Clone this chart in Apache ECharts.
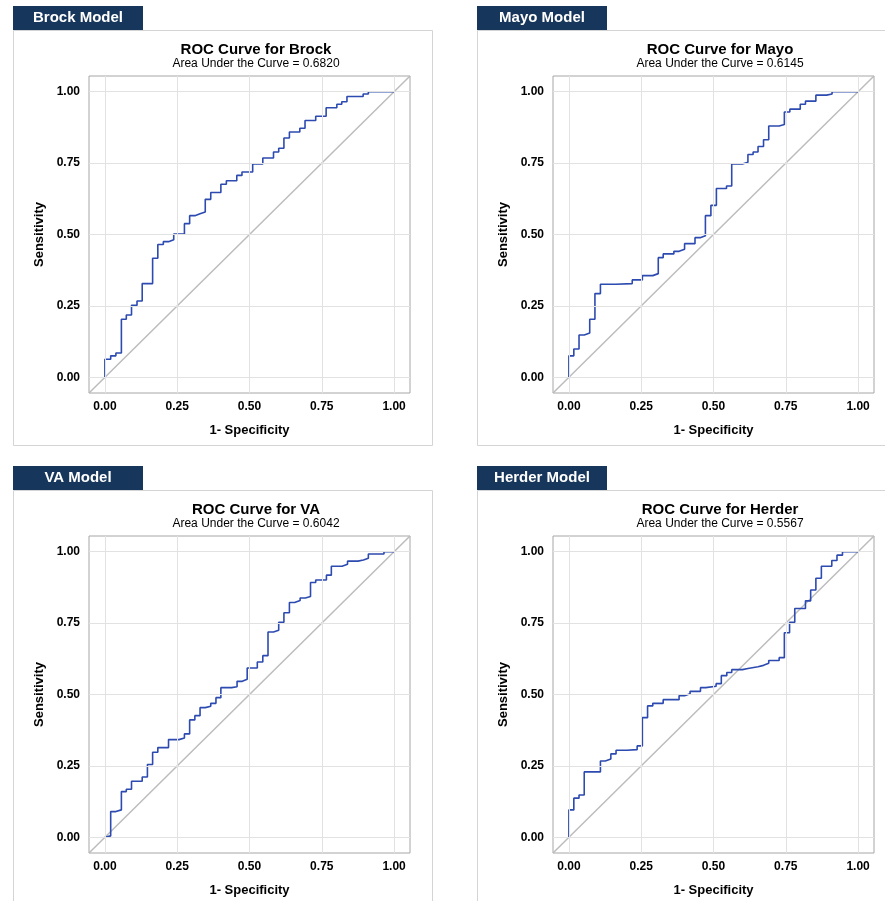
<!DOCTYPE html>
<html>
<head>
<meta charset="utf-8">
<script src="https://cdn.jsdelivr.net/npm/echarts@6/dist/echarts.min.js"></script>
<style>
html,body{margin:0;padding:0;background:#fff;}
#chart{width:885px;height:901px;}
</style>
</head>
<body>
<div id="chart"></div>
<script>
// ---- data ----
const modelNames = ['Brock', 'Mayo', 'VA', 'Herder'];
const aucValues = ['0.6820', '0.6145', '0.6042', '0.5567'];
const tickValues = [0, 0.25, 0.5, 0.75, 1];

const brockFpr = [0, 0, 0.020, 0.038, 0.057, 0.074, 0.092, 0.111, 0.129, 0.165, 0.183, 0.202, 0.220, 0.238, 0.275, 0.293, 0.311, 0.329, 0.347, 0.366, 0.401, 0.420, 0.456, 0.474, 0.511, 0.546, 0.583, 0.601, 0.619, 0.638, 0.674, 0.692, 0.729, 0.765, 0.802, 0.819, 0.837, 0.893, 0.911, 1.0];
const brockTpr = [0, 0.063, 0.075, 0.085, 0.203, 0.218, 0.252, 0.267, 0.328, 0.417, 0.465, 0.475, 0.482, 0.502, 0.538, 0.566, 0.573, 0.579, 0.623, 0.647, 0.676, 0.688, 0.707, 0.719, 0.747, 0.768, 0.789, 0.802, 0.838, 0.859, 0.872, 0.899, 0.914, 0.944, 0.956, 0.965, 0.983, 0.992, 1.0, 1.0];

const mayoFpr = [0, 0, 0.017, 0.035, 0.053, 0.072, 0.090, 0.109, 0.162, 0.219, 0.254, 0.290, 0.309, 0.326, 0.363, 0.381, 0.400, 0.436, 0.454, 0.472, 0.491, 0.510, 0.545, 0.563, 0.600, 0.619, 0.637, 0.654, 0.673, 0.691, 0.727, 0.745, 0.764, 0.800, 0.818, 0.854, 0.891, 0.910, 1.0];
const mayoTpr = [0, 0.075, 0.099, 0.148, 0.155, 0.203, 0.293, 0.326, 0.328, 0.341, 0.356, 0.363, 0.419, 0.432, 0.441, 0.448, 0.468, 0.489, 0.496, 0.566, 0.602, 0.661, 0.670, 0.747, 0.753, 0.780, 0.789, 0.808, 0.832, 0.880, 0.885, 0.929, 0.939, 0.956, 0.967, 0.988, 0.992, 1.0, 1.0];

const vaFpr = [0, 0, 0.020, 0.038, 0.057, 0.074, 0.092, 0.129, 0.147, 0.165, 0.183, 0.220, 0.256, 0.275, 0.293, 0.311, 0.329, 0.347, 0.366, 0.384, 0.401, 0.438, 0.457, 0.475, 0.492, 0.527, 0.546, 0.564, 0.583, 0.601, 0.619, 0.638, 0.656, 0.675, 0.693, 0.711, 0.729, 0.766, 0.783, 0.820, 0.839, 0.875, 0.894, 0.911, 0.965, 1.0];
const vaTpr = [0, 0.005, 0.090, 0.096, 0.160, 0.168, 0.196, 0.211, 0.255, 0.298, 0.314, 0.342, 0.348, 0.362, 0.411, 0.426, 0.454, 0.459, 0.469, 0.489, 0.524, 0.527, 0.546, 0.553, 0.593, 0.614, 0.636, 0.719, 0.725, 0.753, 0.786, 0.822, 0.829, 0.838, 0.843, 0.892, 0.901, 0.918, 0.949, 0.956, 0.967, 0.971, 0.977, 0.992, 1.0, 1.0];

const herderFpr = [0, 0, 0.017, 0.035, 0.053, 0.109, 0.126, 0.145, 0.163, 0.200, 0.236, 0.254, 0.272, 0.290, 0.326, 0.381, 0.400, 0.419, 0.455, 0.473, 0.509, 0.527, 0.546, 0.563, 0.600, 0.619, 0.654, 0.673, 0.691, 0.727, 0.745, 0.763, 0.781, 0.818, 0.836, 0.854, 0.873, 0.909, 0.927, 0.946, 1.0];
const herderTpr = [0, 0.096, 0.137, 0.148, 0.229, 0.267, 0.274, 0.292, 0.305, 0.307, 0.320, 0.419, 0.460, 0.469, 0.482, 0.496, 0.503, 0.511, 0.524, 0.529, 0.538, 0.566, 0.577, 0.587, 0.591, 0.597, 0.602, 0.609, 0.619, 0.629, 0.716, 0.753, 0.801, 0.828, 0.866, 0.907, 0.949, 0.969, 0.988, 1.0, 1.0];

// ---- layout ----
const FONT = '"Liberation Sans", Arial, Helvetica, sans-serif';
const axisMin = -0.055, axisMax = 1.055;
const curves = [[brockFpr, brockTpr], [mayoFpr, mayoTpr], [vaFpr, vaTpr], [herderFpr, herderTpr]];
const panelX = [13, 477, 13, 477];
const panelY = [30, 30, 490, 490];
const panelW = 419, panelH = 415, headerW = 130, headerH = 24;

const chart = echarts.init(document.getElementById('chart'), null, {renderer: 'canvas'});

const grids = [], xAxes = [], yAxes = [], series = [], titles = [], graphics = [];
for (let i = 0; i < 4; i++) {
  const px = panelX[i], py = panelY[i];
  graphics.push({type: 'rect', shape: {x: px + 0.5, y: py + 0.5, width: panelW, height: panelH}, style: {fill: '#fff', stroke: '#d4d4d4', lineWidth: 1}, z: -10});
  graphics.push({type: 'rect', shape: {x: px, y: py - headerH, width: headerW, height: headerH}, style: {fill: '#17365b'}, z: -5});
  graphics.push({type: 'text', x: px + headerW / 2, y: py - headerH / 2, style: {text: modelNames[i] + ' Model', fill: '#fff', font: 'bold 15px ' + FONT, textAlign: 'center', textVerticalAlign: 'middle'}, z: -4});

  const gl = px + 76, gt = py + 46;
  grids.push({left: gl, top: gt, width: 321, height: 317, show: true, borderColor: '#a6a6a6', borderWidth: 1, backgroundColor: 'transparent'});
  titles.push({
    text: 'ROC Curve for ' + modelNames[i],
    subtext: 'Area Under the Curve = ' + aucValues[i],
    left: gl + 162, top: py + 7, textAlign: 'center', itemGap: 1,
    textStyle: {fontFamily: FONT, fontSize: 15, fontWeight: 'bold', color: '#000'},
    subtextStyle: {fontFamily: FONT, fontSize: 12, color: '#000'}
  });
  const common = {
    type: 'value', gridIndex: i, min: axisMin, max: axisMax,
    nameLocation: 'middle',
    nameTextStyle: {fontFamily: FONT, fontWeight: 'bold', fontSize: 13, color: '#000'},
    axisLine: {show: false},
    axisTick: {show: true, length: 5, lineStyle: {color: '#9a9a9a'}, customValues: tickValues},
    axisLabel: {customValues: tickValues, formatter: v => v.toFixed(2), fontFamily: FONT, fontWeight: 'bold', fontSize: 12, color: '#000'},
    splitLine: {show: false}
  };
  xAxes.push(Object.assign({}, common, {name: '1- Specificity', nameGap: 31, axisLabel: Object.assign({}, common.axisLabel, {margin: 8})}));
  yAxes.push(Object.assign({}, common, {name: 'Sensitivity', nameGap: 43, nameRotate: 90, axisLabel: Object.assign({}, common.axisLabel, {margin: 9})}));

  // grid lines (from tick values)
  series.push({
    type: 'line', xAxisIndex: i, yAxisIndex: i, data: [], z: 1, silent: true,
    markLine: {
      silent: true, symbol: ['none', 'none'], animation: false,
      label: {show: false},
      lineStyle: {type: 'solid', color: '#e2e2e2', width: 1},
      emphasis: {disabled: true},
      data: tickValues.map(v => ({xAxis: v})).concat(tickValues.map(v => ({yAxis: v})))
    }
  });
  // chance diagonal
  series.push({
    type: 'line', xAxisIndex: i, yAxisIndex: i, z: 2, silent: true,
    data: [[axisMin, axisMin], [axisMax, axisMax]],
    symbol: 'none', lineStyle: {color: '#bcbcbc', width: 1.5}, animation: false
  });
  // ROC curve
  const [fx, ty] = curves[i];
  series.push({
    type: 'line', xAxisIndex: i, yAxisIndex: i, z: 3, step: 'end',
    data: fx.map((v, k) => [v, ty[k]]),
    symbol: 'none', lineStyle: {color: '#2c4ab0', width: 1.6}, animation: false
  });
}

chart.setOption({
  backgroundColor: '#fff',
  animation: false,
  title: titles,
  grid: grids,
  xAxis: xAxes,
  yAxis: yAxes,
  series: series,
  graphic: graphics
});
</script>
</body>
</html>
